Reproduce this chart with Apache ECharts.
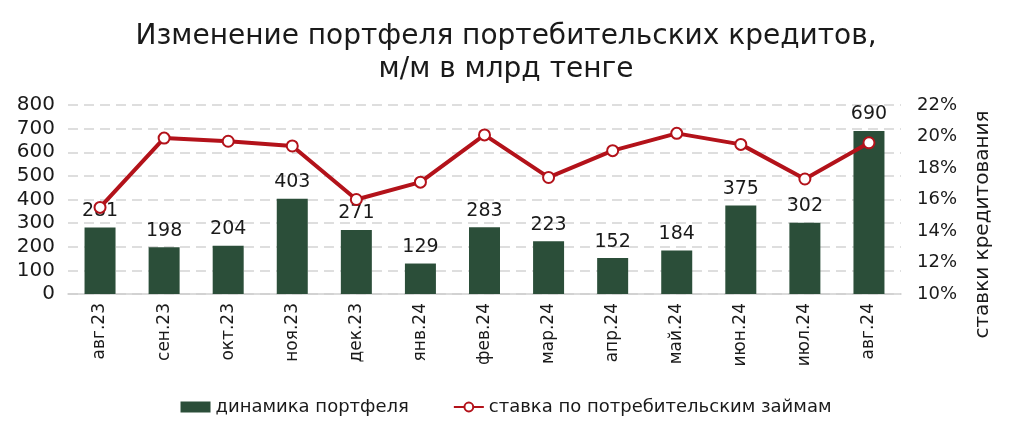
<!DOCTYPE html>
<html><head><meta charset="utf-8">
<script src="https://cdn.jsdelivr.net/npm/echarts@6/dist/echarts.min.js"></script>
<style>html,body{margin:0;padding:0;background:#fff}#c{width:1012px;height:433px}</style>
</head><body><div id="c"></div>
<script>
const categories = ['авг.23','сен.23','окт.23','ноя.23','дек.23','янв.24','фев.24','мар.24','апр.24','май.24','июн.24','июл.24','авг.24'];
const portfolio = [281,198,204,403,271,129,283,223,152,184,375,302,690];
const rates = [15.5,19.9,19.7,19.4,16.0,17.1,20.1,17.4,19.1,20.2,19.5,17.3,19.6];
const leftTicks = {min:0,max:800,interval:100};
const rightTicks = {min:10,max:22,interval:2};
const FONT = '"DejaVu Sans", "Noto Sans", sans-serif';
const INK = '#1a1a1a';
const chart = echarts.init(document.getElementById('c'));
chart.setOption({
  animation:false,
  textStyle:{fontFamily:FONT},
  title:{text:'Изменение портфеля портебительских кредитов,\nм/м в млрд тенге',left:'center',top:15,
    textStyle:{fontFamily:FONT,fontSize:28,fontWeight:'normal',color:INK,lineHeight:33}},
  legend:{top:393,left:'center',itemGap:44,itemWidth:30,itemHeight:11,
    textStyle:{fontFamily:FONT,fontSize:18,color:INK},
    data:[{name:'динамика портфеля',icon:'rect'},{name:'ставка по потребительским займам'}]},
  grid:{left:68,right:111,top:105,bottom:139},
  xAxis:{type:'category',data:categories,
    axisLine:{lineStyle:{color:'#d0d0d0',width:1.5}},axisTick:{show:false},
    axisLabel:{rotate:90,fontSize:17,color:INK,margin:9,fontFamily:FONT}},
  yAxis:[
    {type:'value',min:leftTicks.min,max:leftTicks.max,interval:leftTicks.interval,
      axisLabel:{fontSize:20,color:INK,margin:13,fontFamily:FONT},
      splitLine:{lineStyle:{color:'#d4d4d4',type:[10,6],width:1.5}},axisLine:{show:false}},
    {type:'value',min:rightTicks.min,max:rightTicks.max,interval:rightTicks.interval,position:'right',
      name:'ставки кредитования',nameLocation:'middle',nameRotate:90,nameGap:72,
      nameTextStyle:{fontSize:20,color:INK,fontFamily:FONT,padding:[0,50,0,0]},
      axisLabel:{fontSize:18,color:INK,margin:16,formatter:'{value}%',fontFamily:FONT},
      splitLine:{show:false},axisLine:{show:false}}
  ],
  series:[
    {name:'динамика портфеля',type:'bar',data:portfolio,barWidth:31,
      itemStyle:{color:'#2b4e39'},
      label:{show:true,position:'top',distance:7,fontSize:19,color:INK,fontFamily:FONT}},
    {name:'ставка по потребительским займам',type:'line',yAxisIndex:1,data:rates,
      symbol:'circle',symbolSize:11,
      lineStyle:{color:'#b3121a',width:4},
      itemStyle:{color:'#fff',borderColor:'#b3121a',borderWidth:2}}
  ]
});
</script></body></html>
